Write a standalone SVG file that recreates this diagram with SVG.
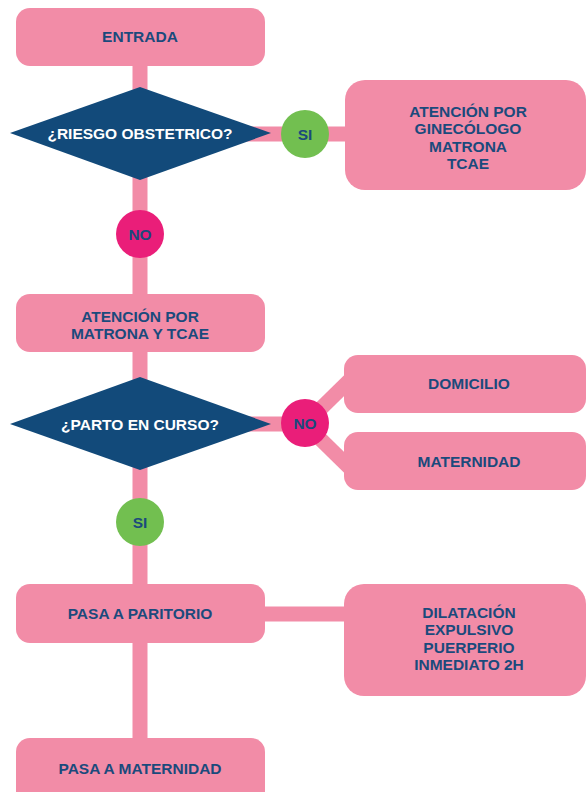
<svg xmlns="http://www.w3.org/2000/svg" width="586" height="792" viewBox="0 0 586 792">
<style>
.box{fill:#F28CA7}
.lbl{font-family:"Liberation Sans",Arial,sans-serif;font-weight:bold;font-size:15.5px;fill:#1B4A7C;text-anchor:middle}
.dlbl{font-family:"Liberation Sans",Arial,sans-serif;font-weight:bold;font-size:15.5px;fill:#FFFFFF;text-anchor:middle}
.dia{fill:#124A7A}
.yes{fill:#72BF50}
.no{fill:#EA1E79}
.conn{stroke:#F28CA7;stroke-width:15;fill:none}
</style>
<rect width="586" height="792" fill="#FFFFFF"/>
<g id="connectors">
<line class="conn" x1="140" y1="60" x2="140" y2="745"/>
<line class="conn" x1="200" y1="134" x2="360" y2="134"/>
<line class="conn" x1="200" y1="424" x2="305" y2="424"/>
<line class="conn" x1="305" y1="424" x2="356" y2="374"/>
<line class="conn" x1="305" y1="424" x2="356" y2="474"/>
<line class="conn" x1="200" y1="614" x2="360" y2="614"/>
</g>
<g id="entrada">
<rect class="box" x="16" y="8" width="249" height="58" rx="14"/>
<text class="lbl" x="140" y="42">ENTRADA</text>
</g>
<g id="riesgo">
<polygon class="dia" points="10,133 140,87 271,133 140,180"/>
<text class="dlbl" x="140" y="139">¿RIESGO OBSTETRICO?</text>
</g>
<g id="si1">
<circle class="yes" cx="305" cy="134" r="24"/>
<text class="lbl" x="305" y="140">SI</text>
</g>
<g id="ginecologo">
<rect class="box" x="345" y="80" width="241" height="110" rx="20"/>
<text class="lbl" x="468" y="117">ATENCIÓN POR</text>
<text class="lbl" x="468" y="134">GINECÓLOGO</text>
<text class="lbl" x="468" y="152">MATRONA</text>
<text class="lbl" x="468" y="169">TCAE</text>
</g>
<g id="no1">
<circle class="no" cx="140" cy="234" r="24"/>
<text class="lbl" x="140" y="240">NO</text>
</g>
<g id="matrona">
<rect class="box" x="16" y="294" width="249" height="58" rx="14"/>
<text class="lbl" x="140" y="322">ATENCIÓN POR</text>
<text class="lbl" x="140" y="339">MATRONA Y TCAE</text>
</g>
<g id="parto">
<polygon class="dia" points="10,424 140,377 271,424 140,470"/>
<text class="dlbl" x="140" y="430">¿PARTO EN CURSO?</text>
</g>
<g id="no2">
<circle class="no" cx="305" cy="423" r="24"/>
<text class="lbl" x="305" y="429">NO</text>
</g>
<g id="domicilio">
<rect class="box" x="344" y="355" width="242" height="58" rx="14"/>
<text class="lbl" x="469" y="389">DOMICILIO</text>
</g>
<g id="maternidad">
<rect class="box" x="344" y="432" width="242" height="58" rx="14"/>
<text class="lbl" x="469" y="467">MATERNIDAD</text>
</g>
<g id="si2">
<circle class="yes" cx="140" cy="522" r="24"/>
<text class="lbl" x="140" y="528">SI</text>
</g>
<g id="paritorio">
<rect class="box" x="16" y="584" width="249" height="59" rx="14"/>
<text class="lbl" x="140" y="619">PASA A PARITORIO</text>
</g>
<g id="dilatacion">
<rect class="box" x="344" y="584" width="242" height="112" rx="20"/>
<text class="lbl" x="469" y="618">DILATACIÓN</text>
<text class="lbl" x="469" y="635">EXPULSIVO</text>
<text class="lbl" x="469" y="653">PUERPERIO</text>
<text class="lbl" x="469" y="670">INMEDIATO 2H</text>
</g>
<g id="pasa-maternidad">
<rect class="box" x="16" y="738" width="249" height="70" rx="14"/>
<text class="lbl" x="140" y="774">PASA A MATERNIDAD</text>
</g>
</svg>
